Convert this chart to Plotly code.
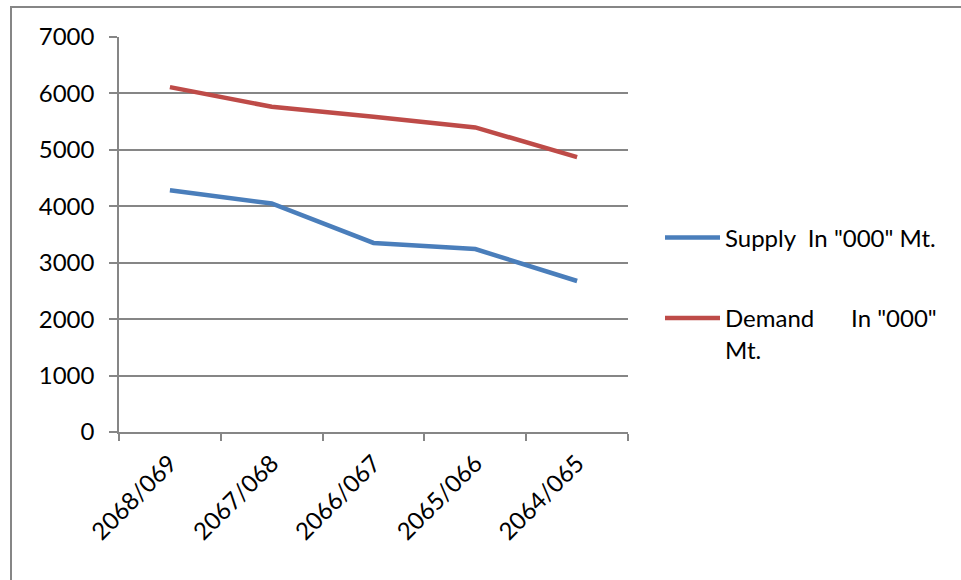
import plotly.graph_objects as go

categories = ["2068/069", "2067/068", "2066/067", "2065/066", "2064/065"]
supply = [4283, 4050, 3350, 3242, 2676]
demand = [6112, 5764, 5587, 5398, 4870]
y_ticks = [0, 1000, 2000, 3000, 4000, 5000, 6000, 7000]

W, H = 961, 580
L, R, T, B = 119, 628, 37, 432
pw, ph = R - L, B - T

def px(x):
    return (x - L) / pw

def py(y):
    return (B - y) / ph

FONT = "Lato"
FS = 24
grid = "#868686"

fig = go.Figure()
fig.add_trace(go.Scatter(x=categories, y=supply, mode="lines",
                         name='Supply\u00a0 In "000" Mt.',
                         line=dict(color="#4A7EBB", width=4.5),
                         legend="legend"))
fig.add_trace(go.Scatter(x=categories, y=demand, mode="lines",
                         name='Demand\u00a0\u00a0\u00a0\u00a0\u00a0 In "000"<br>Mt.',
                         line=dict(color="#BE4B48", width=4.5),
                         legend="legend2"))

fig.update_layout(
    width=W, height=H,
    margin=dict(l=L, r=W - R, t=T, b=H - B, pad=0, autoexpand=False),
    paper_bgcolor="white", plot_bgcolor="white",
    font=dict(family=FONT, size=FS, color="black"),
    xaxis=dict(type="category", range=[-0.5, 4.5], showgrid=False,
               showline=True, linecolor=grid, linewidth=1.5,
               ticks="outside", tickson="boundaries", ticklen=7,
               tickcolor=grid, tickwidth=1.5, tickangle=-45,
               ticklabelstandoff=6,
               tickfont=dict(family=FONT, size=FS, color="black")),
    yaxis=dict(range=[0, 7000], tickvals=y_ticks, showgrid=True,
               gridcolor=grid, gridwidth=1.5, zeroline=False,
               showline=True, linecolor=grid, linewidth=1.5,
               ticks="outside", ticklen=8, tickcolor=grid, tickwidth=1.5,
               ticklabelstandoff=10,
               tickfont=dict(family=FONT, size=FS, color="black")),
    legend=dict(x=px(660), y=py(238), xanchor="left", yanchor="middle",
                bgcolor="rgba(0,0,0,0)", itemwidth=55, valign="top",
                font=dict(family=FONT, size=FS, color="black")),
    legend2=dict(x=px(660), y=py(296), xanchor="left", yanchor="top",
                 bgcolor="rgba(0,0,0,0)", itemwidth=55, valign="top",
                 font=dict(family=FONT, size=FS, color="black")),
    showlegend=True,
)

fig.add_shape(type="rect", xref="paper", yref="paper",
              x0=px(11), x1=px(962), y0=py(590), y1=py(7),
              line=dict(color="#868686", width=2), fillcolor="rgba(0,0,0,0)",
              layer="below")

fig.write_html("out.html")
